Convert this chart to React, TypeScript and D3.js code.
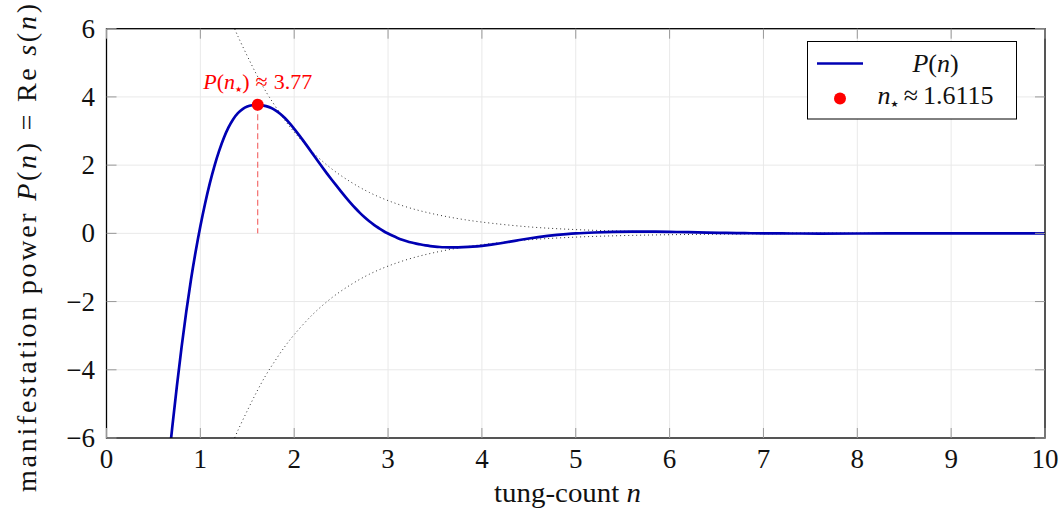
import React from "react";
import * as d3 from "d3";

const nValues = [
  0.65, 0.7, 0.75, 0.8, 0.85, 0.9, 0.95, 1.0, 1.05, 1.1, 1.15, 1.2, 1.25, 1.3,
  1.35, 1.4, 1.45, 1.5, 1.55, 1.6, 1.65, 1.7, 1.75, 1.8, 1.85, 1.9, 1.95, 2.0,
  2.05, 2.1, 2.15, 2.2, 2.25, 2.3, 2.35, 2.4, 2.45, 2.5, 2.55, 2.6, 2.65, 2.7,
  2.75, 2.8, 2.85, 2.9, 2.95, 3.0, 3.05, 3.1, 3.15, 3.2, 3.25, 3.3, 3.35, 3.4,
  3.45, 3.5, 3.55, 3.6, 3.65, 3.7, 3.8, 3.9, 4.0, 4.1, 4.2, 4.3, 4.4, 4.5, 4.6,
  4.7, 4.8, 4.9, 5.0, 5.2, 5.4, 5.6, 5.8, 6.0, 6.2, 6.4, 6.6, 6.8, 7.0, 7.3,
  7.6, 8.0, 8.5, 9.0, 10.0,
];
const pValues = [
  -7.0, -5.705, -4.477, -3.337, -2.297, -1.362, -0.532, 0.208, 0.87, 1.458,
  1.973, 2.418, 2.796, 3.106, 3.348, 3.526, 3.644, 3.716, 3.756, 3.77, 3.76,
  3.73, 3.68, 3.605, 3.505, 3.38, 3.23, 3.065, 2.888, 2.703, 2.513, 2.32,
  2.127, 1.937, 1.752, 1.572, 1.397, 1.225, 1.057, 0.895, 0.742, 0.6, 0.47,
  0.353, 0.249, 0.157, 0.07, -0.005, -0.073, -0.133, -0.185, -0.23, -0.268,
  -0.3, -0.328, -0.352, -0.372, -0.388, -0.4, -0.408, -0.412, -0.412, -0.404,
  -0.39, -0.365, -0.33, -0.29, -0.245, -0.195, -0.15, -0.11, -0.075, -0.045,
  -0.02, 0.0, 0.025, 0.042, 0.05, 0.05, 0.043, 0.033, 0.022, 0.012, 0.005, 0.0,
  -0.004, -0.006, -0.004, -0.001, 0, 0,
];

// dotted envelopes
const envN = [
  1.35, 1.4, 1.5, 1.6, 1.7, 1.8, 1.9, 2.0, 2.2, 2.4, 2.6, 2.8, 3.0, 3.25, 3.5,
  3.75, 4.0, 4.5, 5.0, 5.5, 6.0, 7.0, 8.0, 9.0, 10.0,
];
const envUpper = [
  6.1, 5.78, 5.2, 4.65, 4.15, 3.72, 3.32, 2.97, 2.37, 1.89, 1.51, 1.2, 0.96,
  0.73, 0.56, 0.43, 0.33, 0.19, 0.11, 0.066, 0.04, 0.014, 0.005, 0.002, 0.0006,
];
const envLower = [
  -6.1, -5.78, -5.2, -4.65, -4.15, -3.72, -3.32, -2.97, -2.37, -1.89, -1.51,
  -1.2, -0.96, -0.73, -0.56, -0.43, -0.33, -0.19, -0.11, -0.066, -0.04, -0.014,
  -0.005, -0.002, -0.0006,
];

const nStar = 1.6115;
const pStar = 3.77;

const xTicks = [0, 1, 2, 3, 4, 5, 6, 7, 8, 9, 10];
const yTicks = [-6, -4, -2, 0, 2, 4, 6];

const FONT = "'Liberation Serif', 'DejaVu Serif', serif";
const STAR_FONT = "'DejaVu Sans', sans-serif";
const BLUE = "#0000b3";

const App = () => {
  const x = d3.scaleLinear().domain([0, 10]).range([106.5, 1045]);
  const y = d3.scaleLinear().domain([-6, 6]).range([438, 28.7]);
  const [x0, x1] = x.range();
  const [y0, y1] = y.range();

  const line = d3
    .line<[number, number]>()
    .x(d => x(d[0]))
    .y(d => y(d[1]))
    .curve(d3.curveCatmullRom.alpha(0.5));

  const curve = nValues.map((n, i) => [n, pValues[i]] as [number, number]);
  const upper = envN.map((n, i) => [n, envUpper[i]] as [number, number]);
  const lower = envN.map((n, i) => [n, envLower[i]] as [number, number]);

  const fmt = (v: number) => (v < 0 ? "\u2212" + Math.abs(v) : String(v));

  return (
    <svg
      width={1064}
      height={510}
      style={{ position: "absolute", left: 0, top: 0 }}
      fontFamily={FONT}
    >
      <defs>
        <clipPath id="plot">
          <rect x={x0} y={y1} width={x1 - x0} height={y0 - y1} />
        </clipPath>
      </defs>
      <rect width={1064} height={510} fill="white" />

      {/* grid */}
      {xTicks.map(t => (
        <line key={"gx" + t} x1={x(t)} x2={x(t)} y1={y0} y2={y1} stroke="#e9e9e9" strokeWidth={1} />
      ))}
      {yTicks.map(t => (
        <line key={"gy" + t} x1={x0} x2={x1} y1={y(t)} y2={y(t)} stroke="#e9e9e9" strokeWidth={1} />
      ))}

      <g clipPath="url(#plot)">
        <path d={line(upper) || ""} fill="none" stroke="#000" strokeWidth={0.9} strokeDasharray="0.9 3.1" />
        <path d={line(lower) || ""} fill="none" stroke="#000" strokeWidth={0.9} strokeDasharray="0.9 3.1" />
        <path d={line(curve) || ""} fill="none" stroke={BLUE} strokeWidth={2.7} strokeLinejoin="round" />
        <line
          x1={x(nStar)}
          x2={x(nStar)}
          y1={y(pStar)}
          y2={y(0)}
          stroke="#e33"
          strokeOpacity={0.85}
          strokeWidth={1}
          strokeDasharray="6 3.5"
        />
        <circle cx={x(nStar)} cy={y(pStar)} r={6} fill="#ff0000" />
      </g>

      <text x={x(nStar)} y={89} fontSize={22} fill="#ff0000" textAnchor="middle">
        <tspan fontStyle="italic">P</tspan>(<tspan fontStyle="italic">n</tspan>
        <tspan fontFamily={STAR_FONT} fontSize={8} dy={3}>{"\u2605"}</tspan>
        <tspan dy={-3}>)</tspan>
        <tspan dx={6}>≈</tspan>
        <tspan dx={6}>3.77</tspan>
      </text>

      {/* frame */}
      <rect x={x0} y={y1} width={x1 - x0} height={y0 - y1} fill="none" stroke="#000" strokeWidth={1.3} />

      {/* ticks */}
      {xTicks.map(t => (
        <g key={"tx" + t}>
          <line x1={x(t)} x2={x(t)} y1={y0} y2={y0 - 10} stroke="#999" strokeWidth={1} />
          <line x1={x(t)} x2={x(t)} y1={y1} y2={y1 + 10} stroke="#999" strokeWidth={1} />
          <text x={x(t)} y={468} fontSize={27} textAnchor="middle" fill="#111">
            {t}
          </text>
        </g>
      ))}
      {yTicks.map(t => (
        <g key={"ty" + t}>
          <line x1={x0} x2={x0 + 10} y1={y(t)} y2={y(t)} stroke="#999" strokeWidth={1} />
          <line x1={x1} x2={x1 - 10} y1={y(t)} y2={y(t)} stroke="#999" strokeWidth={1} />
          <text x={95} y={y(t) + 9} fontSize={27} textAnchor="end" fill="#111">
            {fmt(t)}
          </text>
        </g>
      ))}

      {/* axis labels */}
      <text x={567.5} y={502} fontSize={27} textAnchor="middle" fill="#111" textLength={147} lengthAdjust="spacingAndGlyphs">
        tung-count <tspan fontStyle="italic">n</tspan>
      </text>
      <text
        transform="translate(36, 492) rotate(-90)"
        fontSize={28}
        textAnchor="start"
        fill="#111"
        textLength={488}
        lengthAdjust="spacing"
      >
        manifestation power <tspan fontStyle="italic">P</tspan>(<tspan fontStyle="italic">n</tspan>) = Re{" "}
        <tspan fontStyle="italic">s</tspan>(<tspan fontStyle="italic">n</tspan>)
      </text>

      {/* legend */}
      <g>
        <rect x={807.5} y={41.5} width={209} height={77.5} fill="white" stroke="#000" strokeWidth={1} />
        <line x1={817} x2={863} y1={63.5} y2={63.5} stroke={BLUE} strokeWidth={2.7} />
        <text x={935.5} y={72} fontSize={26} textAnchor="middle" fill="#111">
          <tspan fontStyle="italic">P</tspan>(<tspan fontStyle="italic">n</tspan>)
        </text>
        <circle cx={840} cy={98.5} r={6} fill="#ff0000" />
        <text x={935.5} y={104} fontSize={26} textAnchor="middle" fill="#111">
          <tspan fontStyle="italic">n</tspan>
          <tspan fontFamily={STAR_FONT} fontSize={9} dy={3}>{"\u2605"}</tspan>
          <tspan dy={-3} dx={5}>≈</tspan>
          <tspan dx={5}>1.6115</tspan>
        </text>
      </g>
    </svg>
  );
};

export default App;
